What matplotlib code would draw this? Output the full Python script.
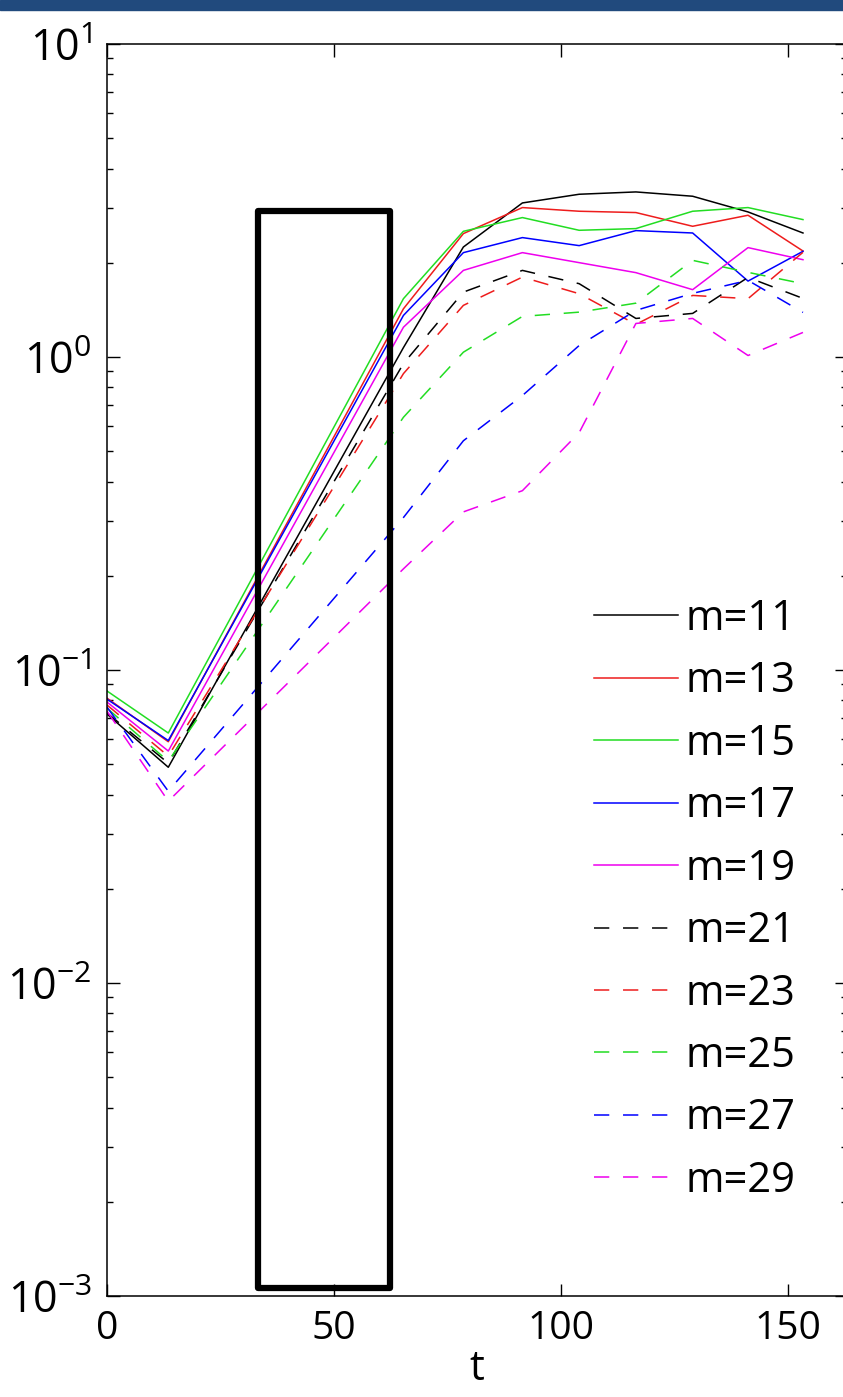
import matplotlib
matplotlib.use("Agg")
import matplotlib.pyplot as plt
from matplotlib.patches import Rectangle
import numpy as np

plt.rcParams['font.family'] = ['Open Sans', 'DejaVu Sans']
plt.rcParams['mathtext.fontset'] = 'custom'
plt.rcParams['mathtext.rm'] = 'Open Sans'
plt.rcParams['mathtext.it'] = 'Open Sans'

# sample times
t = [0, 13.5, 65.3, 78.5, 91.5, 104, 116.5, 129, 141.2, 153.3]

m11 = [0.0723, 0.0489, 1.072, 2.246, 3.106, 3.311, 3.368, 3.263, 2.907, 2.490]
m13 = [0.0813, 0.0590, 1.426, 2.479, 3.002, 2.922, 2.894, 2.616, 2.837, 2.181]
m15 = [0.0857, 0.0629, 1.536, 2.521, 2.789, 2.540, 2.572, 2.922, 3.002, 2.748]
m17 = [0.0807, 0.0595, 1.358, 2.155, 2.407, 2.269, 2.534, 2.490, 1.748, 2.176]
m19 = [0.0790, 0.0551, 1.245, 1.891, 2.155, 2.002, 1.860, 1.641, 2.236, 2.046]
m21 = [0.0729, 0.0504, 0.953, 1.612, 1.891, 1.715, 1.328, 1.378, 1.796, 1.539]
m23 = [0.0773, 0.0531, 0.885, 1.462, 1.800, 1.593, 1.271, 1.573, 1.536, 2.160]
m25 = [0.0755, 0.0511, 0.642, 1.036, 1.348, 1.391, 1.486, 2.036, 1.864, 1.715]
m27 = [0.0761, 0.0410, 0.307, 0.540, 0.753, 1.088, 1.409, 1.597, 1.757, 1.388]
m29 = [0.0739, 0.0381, 0.2105, 0.320, 0.374, 0.573, 1.280, 1.328, 1.011, 1.198]

series = [m11, m13, m15, m17, m19, m21, m23, m25, m27, m29]
labels = ['m=11', 'm=13', 'm=15', 'm=17', 'm=19',
          'm=21', 'm=23', 'm=25', 'm=27', 'm=29']
colors = ['k', '#ee1c1c', '#22dd22', '#0000ff', '#ee00ee'] * 2
styles = ['-'] * 5 + [(0, (10, 9))] * 5

# highlighted window
box_t = (33.3, 62.4)
box_y = (1.06e-3, 2.92)

W, H = 843, 1397
fig = plt.figure(figsize=(W / 100, H / 100), dpi=100)
ax = fig.add_axes([107 / W, (H - 1296) / H, 740 / W, 1252 / H])

for y, lab, c, ls in zip(series, labels, colors, styles):
    ax.plot(t, y, color=c, ls=ls, lw=1.1, label=lab)

ax.add_patch(Rectangle((box_t[0], box_y[0]), box_t[1] - box_t[0], box_y[1] - box_y[0],
                       fill=False, ec='k', lw=4.5, joinstyle='round', zorder=5))

ax.set_yscale('log')
ax.set_ylim(1e-3, 10)
ax.set_xlim(0, 163)
ax.set_xticks([0, 50, 100, 150])
ax.set_xlabel('t', fontsize=30, labelpad=0)

ax.tick_params(which='both', direction='in', top=True, right=True, width=1.0)
ax.tick_params(which='major', length=9, pad=10)
ax.tick_params(which='minor', length=4)
ax.tick_params(axis='x', labelsize=28)
ax.tick_params(axis='y', which='major', labelsize=31, pad=11)
for s in ax.spines.values():
    s.set_linewidth(1.1)

leg = ax.legend(loc='upper left', bbox_to_anchor=(0.658, 0.5575), frameon=False,
                fontsize=30, handlelength=2.02, handletextpad=0.17,
                labelspacing=0.49, borderpad=0, borderaxespad=0)

# dark header strip at the top of the slide
fig.patches.append(Rectangle((0, 1 - 10 / H), 1, 10 / H, transform=fig.transFigure,
                             color='#214a7d', zorder=10))

fig.savefig('out.png', dpi=100)
